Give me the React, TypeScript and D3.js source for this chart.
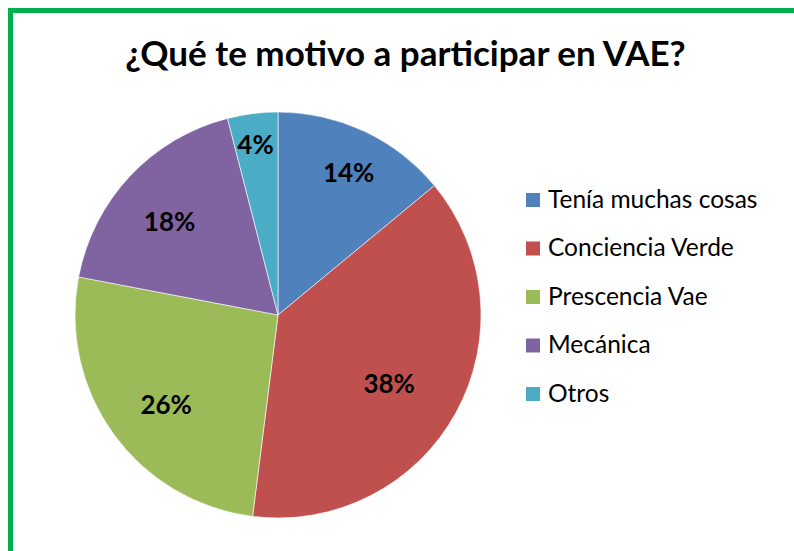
import React from "react";
import * as d3 from "d3";

const TITLE = "¿Qué te motivo a participar en VAE?";
const categories = ["Tenía muchas cosas", "Conciencia Verde", "Prescencia Vae", "Mecánica", "Otros"];
const values = [14, 38, 26, 18, 4];
const colors = ["#4F81BD", "#C0504D", "#9BBB59", "#8064A2", "#4BACC6"];

// layout: radial placement of each percentage label (fraction of radius)
const LABEL_RADIUS_FRACTION = [0.818, 0.625, 0.681, 0.733, 0.884];
const LABEL_DROP = 8;

const W = 794;
const H = 551;
const CX = 278;
const CY = 315;
const R = 203;
const FONT = "Lato, 'Open Sans', sans-serif";

export default function App() {
  const total = d3.sum(values);
  const pie = d3.pie<number>().sort(null).value((d) => d);
  const arcs = pie(values);
  const arcGen = d3.arc<d3.PieArcDatum<number>>().innerRadius(0).outerRadius(R);

  const legendY = d3.scalePoint<string>().domain(categories).range([200, 394]);

  return (
    <svg
      width={W}
      height={H}
      style={{ position: "fixed", left: 0, top: 0, background: "#fff" }}
      fontFamily={FONT}
    >
      <rect x={0} y={0} width={W} height={H} fill="#fff" />
      <rect x={10.5} y={10.5} width={900} height={700} fill="none" stroke="#00B050" strokeWidth={5} />
      <text x={405.5} y={66} textAnchor="middle" fontWeight="bold" fontSize={35} fill="#000">
        {TITLE}
      </text>
      <g transform={`translate(${CX},${CY})`}>
        {arcs.map((a, i) => (
          <path key={i} d={arcGen(a) || ""} fill={colors[i]} stroke="#fff" strokeWidth={0.6} />
        ))}
        {arcs.map((a, i) => {
          const mid = (a.startAngle + a.endAngle) / 2;
          const r = R * LABEL_RADIUS_FRACTION[i];
          const x = Math.sin(mid) * r;
          const y = -Math.cos(mid) * r + LABEL_DROP;
          return (
            <text
              key={i}
              x={x}
              y={y}
              dy="0.36em"
              textAnchor="middle"
              fontWeight="bold"
              fontSize={26}
              fill="#000"
            >
              {`${Math.round((a.data / total) * 100)}%`}
            </text>
          );
        })}
      </g>
      <g>
        {categories.map((c, i) => {
          const y = legendY(c) as number;
          return (
            <g key={c}>
              <rect x={526} y={y - 7} width={14} height={14} fill={colors[i]} />
              <text x={548} y={y + 7.5} fontSize={24.5} fill="#000">
                {c}
              </text>
            </g>
          );
        })}
      </g>
    </svg>
  );
}
